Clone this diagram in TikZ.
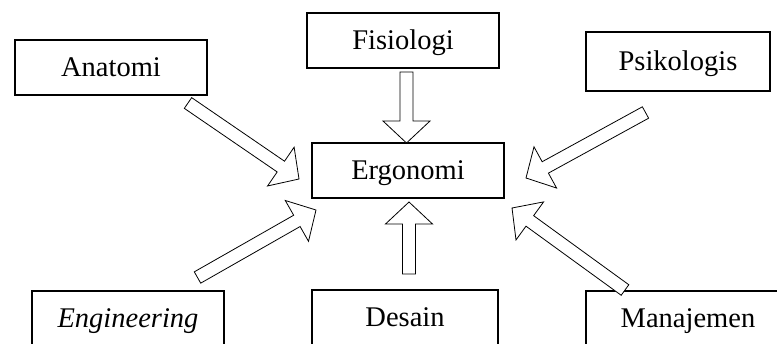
\documentclass[tikz,border=0pt]{standalone}
\usepackage{fontspec}
\setmainfont{Liberation Serif}
\usetikzlibrary{calc}
\newcommand{\arrsw}{6.5pt}
\newcommand{\arrhw}{23.5pt}
\newcommand{\arrhl}{22pt}
\newcommand{\blockarr}[2]{%
  \coordinate (ba-h) at ($(#2)!\arrhl!(#1)$);
  \draw[blockarrow] ($(#1)!\arrsw!90:(#2)$) -- ($(ba-h)!\arrsw!-90:(#1)$)
    -- ($(ba-h)!\arrhw!-90:(#1)$) -- (#2) -- ($(ba-h)!\arrhw!90:(#1)$)
    -- ($(ba-h)!\arrsw!90:(#1)$) -- ($(#1)!\arrsw!-90:(#2)$) -- cycle;}
\tikzset{
  box/.style={draw, line width=1.6pt, inner sep=0pt, align=center,
    text height=18.9pt, text depth=0pt,
    font=\fontsize{28.5}{34}\selectfont},
  lowbox/.style={box, text depth=6pt, minimum height=60pt},
  blockarrow/.style={draw, fill=white, line width=0.8pt, line join=miter}
}
\begin{document}
\begin{tikzpicture}[x=1pt, y=-1pt]
\useasboundingbox (0,0) rectangle (777,343);
\clip (0,0) rectangle (777,343);
\fill[white] (0,0) rectangle (777,343);
% boxes
\node[box, minimum width=192pt, minimum height=55pt] (anat) at (111,67.5) {Anatomi};
\node[box, minimum width=192pt, minimum height=55pt] (fis) at (403,40.5) {Fisiologi};
\node[box, minimum width=184pt, minimum height=59pt] (psi) at (678,61.5) {Psikologis};
\node[box, minimum width=192pt, minimum height=55pt] (erg) at (408,170.5) {Ergonomi};
\node[lowbox, minimum width=192pt] (eng) at (128,321) {\textit{Engineering}};
\node[lowbox, minimum width=186pt] (des) at (405,320) {Desain};
\node[lowbox, minimum width=204pt] (man) at (688,321) {Manajemen};
% arrow endpoints
\coordinate (anat-t) at (188,103);
\coordinate (anat-h) at (299,179);
\coordinate (fis-t) at (406.5,72);
\coordinate (fis-h) at (406.5,143);
\coordinate (psi-t) at (645.5,112.5);
\coordinate (psi-h) at (526,178);
\coordinate (eng-t) at (197.5,277.5);
\coordinate (eng-h) at (316,210);
\coordinate (des-t) at (409,274);
\coordinate (des-h) at (409,202);
\coordinate (man-t) at (625,290);
\coordinate (man-h) at (512,208);
% arrows
\blockarr{anat-t}{anat-h}
\blockarr{fis-t}{fis-h}
\blockarr{psi-t}{psi-h}
\blockarr{eng-t}{eng-h}
\blockarr{des-t}{des-h}
\blockarr{man-t}{man-h}
\end{tikzpicture}
\end{document}
